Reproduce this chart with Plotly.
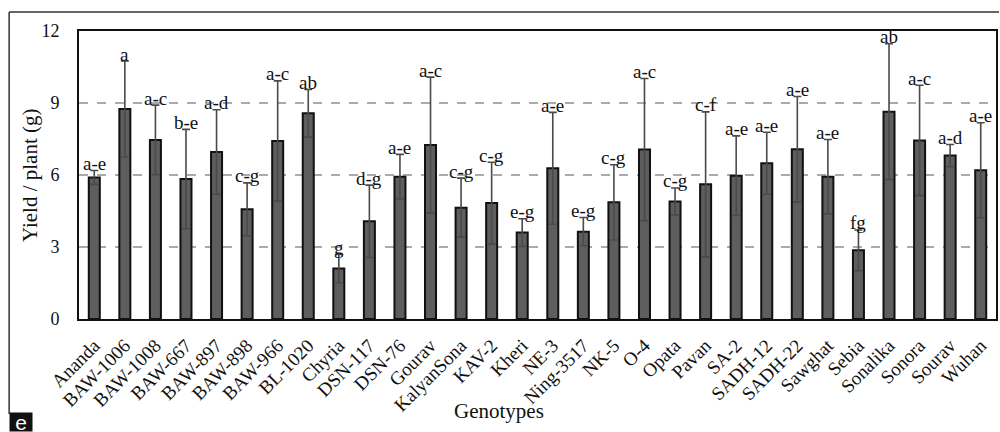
import plotly.graph_objects as go

genotypes = ["Ananda", "BAW-1006", "BAW-1008", "BAW-667", "BAW-897", "BAW-898", "BAW-966",
             "BL-1020", "Chyria", "DSN-117", "DSN-76", "Gourav", "KalyanSona", "KAV-2", "Kheri",
             "NE-3", "Ning-3517", "NK-5", "O-4", "Opata", "Pavan", "SA-2", "SADH-12", "SADH-22",
             "Sawghat", "Sebia", "Sonalika", "Sonora", "Sourav", "Wuhan"]
yield_mean = [5.90, 8.75, 7.46, 5.83, 6.96, 4.57, 7.42, 8.57, 2.10, 4.07, 5.93, 7.25, 4.64, 4.83,
              3.60, 6.28, 3.64, 4.86, 7.06, 4.90, 5.61, 5.97, 6.49, 7.07, 5.93, 2.86, 8.64, 7.44,
              6.81, 6.20]
yield_err = [0.29, 2.00, 1.45, 2.07, 1.76, 1.10, 2.50, 0.99, 0.59, 1.51, 0.93, 2.83, 1.23, 1.70,
             0.58, 2.33, 0.59, 1.57, 2.96, 0.56, 3.02, 1.66, 1.29, 2.20, 1.55, 0.85, 2.83, 2.30,
             0.46, 1.98]
letters = ["a-e", "a", "a-c", "b-e", "a-d", "c-g", "a-c", "ab", "g", "d-g", "a-e", "a-c", "c-g",
           "c-g", "e-g", "a-e", "e-g", "c-g", "a-c", "c-g", "c-f", "a-e", "a-e", "a-e", "a-e",
           "fg", "ab", "a-c", "a-d", "a-e"]
y_ticks = [0, 3, 6, 9, 12]

W, H = 1000, 432
L, R, T, B = 79, 998, 31, 319


def px(x):
    return (x - L) / (R - L)


def py(y):
    return (B - y) / (B - T)


serif = "Liberation Serif"

fig = go.Figure()
fig.add_trace(go.Bar(
    x=genotypes, y=yield_mean, width=0.36,
    marker=dict(color="#5e5e5e", line=dict(color="#111111", width=2)),
    error_y=dict(type="data", array=yield_err, visible=True, color="#4a4a4a",
                 thickness=1.6, width=4),
    showlegend=False,
))

annotations = []
for g, m, e, t in zip(genotypes, yield_mean, yield_err, letters):
    annotations.append(dict(x=g, y=m + e, xref="x", yref="y", text=t, showarrow=False,
                            yanchor="middle", yshift=7,
                            font=dict(family=serif, size=19, color="#111111")))

annotations.append(dict(x=px(30), y=0.5, xref="paper", yref="paper", text="Yield / plant (g)",
                        textangle=-90, showarrow=False, xanchor="center", yanchor="middle",
                        font=dict(family=serif, size=21, color="#111111")))
annotations.append(dict(x=px(500), y=py(411), xref="paper", yref="paper", text="Genotypes",
                        showarrow=False, xanchor="center", yanchor="middle",
                        font=dict(family=serif, size=21, color="#111111")))
annotations.append(dict(x=px(9), y=py(432), xref="paper", yref="paper", text="e",
                        showarrow=False, xanchor="left", yanchor="bottom",
                        bgcolor="#111111", borderpad=0, width=22, height=18,
                        font=dict(family="Liberation Sans", size=21, color="white")))

shapes = [dict(type="line", xref="paper", yref="paper", x0=px(9), x1=px(9), y0=py(414),
               y1=py(12), line=dict(color="#333333", width=1.5)),
          dict(type="line", xref="paper", yref="paper", x0=px(9), x1=px(1001), y0=py(12),
               y1=py(12), line=dict(color="#333333", width=1.5))]

fig.update_layout(
    width=W, height=H,
    margin=dict(l=L, r=W - R, t=T, b=H - B),
    paper_bgcolor="white", plot_bgcolor="white",
    annotations=annotations, shapes=shapes,
    bargap=0.64,
    xaxis=dict(range=[-0.5, len(genotypes) - 0.5], tickangle=-45, showline=True, mirror=True,
               linecolor="#111111", linewidth=2, ticks="", showgrid=False,
               ticklabelstandoff=6,
               tickfont=dict(family=serif, size=19, color="#111111")),
    yaxis=dict(range=[0, 12], tickvals=y_ticks, showline=True, mirror=True,
               linecolor="#111111", linewidth=2, ticks="", zeroline=False,
               showgrid=True, gridcolor="#aaaaaa", gridwidth=1.5, griddash="dash",
               ticklabelstandoff=14,
               tickfont=dict(family=serif, size=18, color="#111111")),
)

fig.write_html("out.html")
